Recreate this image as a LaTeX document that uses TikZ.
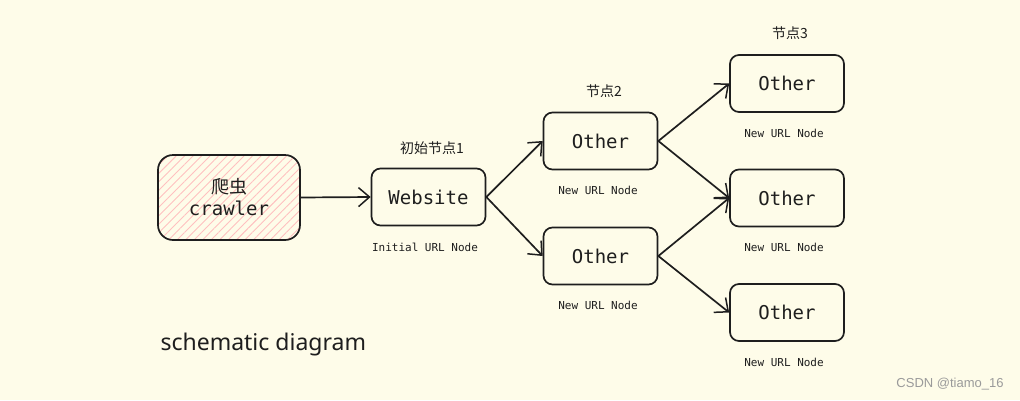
\documentclass[tikz,border=0pt]{standalone}
\usepackage{fontspec}
\setmonofont{DejaVu Sans Mono}
\newfontfamily\cjk{Noto Sans CJK SC}
\newfontfamily\handfont{Noto Sans}
\newfontfamily\markfont{Liberation Sans}
\usetikzlibrary{arrows.meta, patterns.meta, positioning}
\definecolor{bgcream}{HTML}{FEFCE9}
\definecolor{inkblack}{HTML}{1E1E1E}
\definecolor{hatchpink}{HTML}{FFC0C0}
\definecolor{markgray}{HTML}{9A9A9A}

\tikzset{
    urlbox/.style={draw=inkblack, line width=1.7pt, rounded corners=9pt,
        minimum width=114pt, minimum height=57pt, inner sep=0pt,
        font=\ttfamily\fontsize{19}{22}\selectfont, text=inkblack},
    crawlbox/.style={urlbox, rounded corners=15pt, minimum width=142pt, minimum height=85pt,
        pattern={Lines[angle=45, distance=6pt, line width=0.9pt]}, pattern color=hatchpink,
        align=center},
    linkarrow/.style={draw=inkblack, line width=1.7pt,
        -{Straight Barb[length=11pt, width=19pt, line width=1.5pt]}},
    steplabel/.style={font=\cjk\fontsize{14}{16}\selectfont, text=inkblack},
    urlnote/.style={font=\ttfamily\fontsize{11}{13}\selectfont, text=inkblack},
}

\begin{document}
\begin{tikzpicture}[x=1pt, y=-1pt]

    \fill[bgcream] (0,0) rectangle (1020,400);

    % boxes
    \node[crawlbox] (crawler) at (229,197.5) {{\cjk\fontsize{18}{22}\selectfont 爬虫}\\crawler};
    \node[urlbox] (website) at (428.5,197) {Website};
    \node[urlbox] (mida) at (600.5,141) {Other};
    \node[urlbox] (midb) at (600.5,256) {Other};
    \node[urlbox] (righta) at (787,83.5) {Other};
    \node[urlbox] (rightb) at (787,198) {Other};
    \node[urlbox] (rightc) at (787,312.5) {Other};

    % levels
    \node[steplabel] (levela) at (432,148) {初始节点1};
    \node[steplabel] (levelb) at (604,91) {节点2};
    \node[steplabel] (levelc) at (790,33) {节点3};

    \node[urlnote] (notew) at (425,247) {Initial URL Node};
    \node[urlnote] (notea) at (598,190) {New URL Node};
    \node[urlnote] (noteb) at (598,305) {New URL Node};
    \node[urlnote] (notec) at (784,133) {New URL Node};
    \node[urlnote] (noted) at (784,247) {New URL Node};
    \node[urlnote] (notee) at (784,362) {New URL Node};

    % links
    \draw[linkarrow] (crawler.east) -- (website.west);
    \draw[linkarrow] (website.east) -- (mida.west);
    \draw[linkarrow] (website.east) -- (midb.west);
    \draw[linkarrow] (mida.east) -- (righta.west);
    \draw[linkarrow] (mida.east) -- (rightb.west);
    \draw[linkarrow] (midb.east) -- (rightb.west);
    \draw[linkarrow] (midb.east) -- (rightc.west);

    \node[font=\handfont\fontsize{23}{26}\selectfont, text=inkblack, anchor=west] (caption) at (157,345) {schematic diagram};
    \node[font=\markfont\fontsize{13}{15}\selectfont, text=markgray] (watermark) at (950,384) {CSDN @tiamo\_16};

\end{tikzpicture}
\end{document}
